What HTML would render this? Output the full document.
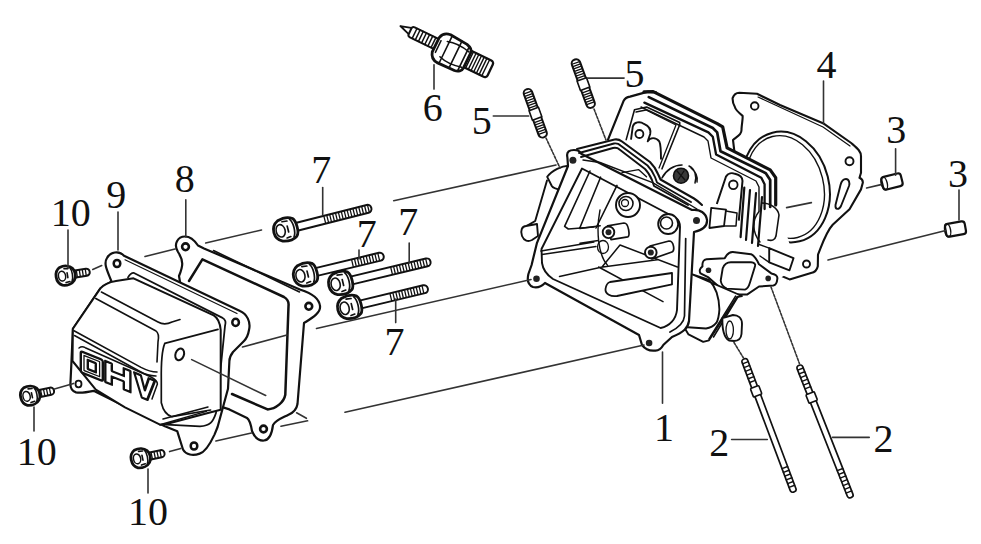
<!DOCTYPE html>
<html><head><meta charset="utf-8">
<style>
html,body{margin:0;padding:0;background:#fff;width:981px;height:544px;overflow:hidden}
svg{display:block}
text{font-family:"Liberation Serif",serif;font-size:40px;fill:#111}
.s{fill:none;stroke:#111;stroke-width:1.7;stroke-linejoin:round;stroke-linecap:round}
.t{fill:none;stroke:#333;stroke-width:1.6;stroke-linecap:round}
.w{fill:#fff;stroke:#111;stroke-width:1.7;stroke-linejoin:round}
</style></head><body>
<svg width="981" height="544" viewBox="0 0 981 544">
<!-- LABELS -->
<g id="labels">
<text x="50.8" y="226.2">10</text>
<text x="106.3" y="207.6">9</text>
<text x="174.8" y="192.4">8</text>
<text x="311.2" y="183.4">7</text>
<text x="356.7" y="247">7</text>
<text x="398.2" y="235">7</text>
<text x="384.6" y="355.3">7</text>
<text x="422.8" y="120.7">6</text>
<text x="471.7" y="134.2">5</text>
<text x="624.6" y="86.5">5</text>
<text x="816.6" y="77.8">4</text>
<text x="886.2" y="142.5">3</text>
<text x="948" y="186.6">3</text>
<text x="654" y="441">1</text>
<text x="709.2" y="455.8">2</text>
<text x="873.4" y="451.7">2</text>
<text x="16.8" y="465.4">10</text>
<text x="128" y="524.6">10</text>
</g>


<!-- BOLTS 10 -->
<g id="b10">
<g transform="translate(66,275.5) rotate(-9)">
 <rect x="6" y="-3.6" width="18" height="7.2" rx="3.4" class="w" style="stroke-width:2"/>
 <path d="M11,-3V3M14,-3V3M17,-3V3M20,-3V3" class="s" style="stroke-width:1.3"/>
 <path d="M-5,-9 C0,-10.5 5,-9 7.5,-6 C10,-3 10,3 7.5,6 C5,9 0,10.5 -5,9 C-9,7 -10,3 -10,0 C-10,-4 -9,-7 -5,-9Z" class="w" style="stroke-width:2.8"/>
 <ellipse cx="-4" cy="0" rx="3.6" ry="5" class="s" style="stroke-width:1.5"/>
 <path d="M-1,-7 L3,-6.5 M-1,7 L3,6.5 M1.5,-2.5 L1.5,2.5 M5,-7 C7,-4 7,4 5,7" class="s" style="stroke-width:1.6"/>
</g>
<g transform="translate(30.5,395.5) rotate(-12)">
 <rect x="6" y="-3.6" width="18" height="7.2" rx="3.4" class="w" style="stroke-width:2"/>
 <path d="M11,-3V3M14,-3V3M17,-3V3M20,-3V3" class="s" style="stroke-width:1.3"/>
 <path d="M-5,-9 C0,-10.5 5,-9 7.5,-6 C10,-3 10,3 7.5,6 C5,9 0,10.5 -5,9 C-9,7 -10,3 -10,0 C-10,-4 -9,-7 -5,-9Z" class="w" style="stroke-width:2.8"/>
 <ellipse cx="-4" cy="0" rx="3.6" ry="5" class="s" style="stroke-width:1.5"/>
 <path d="M-1,-7 L3,-6.5 M-1,7 L3,6.5 M1.5,-2.5 L1.5,2.5 M5,-7 C7,-4 7,4 5,7" class="s" style="stroke-width:1.6"/>
</g>
<g transform="translate(141,458) rotate(-12)">
 <rect x="6" y="-3.6" width="18" height="7.2" rx="3.4" class="w" style="stroke-width:2"/>
 <path d="M11,-3V3M14,-3V3M17,-3V3M20,-3V3" class="s" style="stroke-width:1.3"/>
 <path d="M-5,-9 C0,-10.5 5,-9 7.5,-6 C10,-3 10,3 7.5,6 C5,9 0,10.5 -5,9 C-9,7 -10,3 -10,0 C-10,-4 -9,-7 -5,-9Z" class="w" style="stroke-width:2.8"/>
 <ellipse cx="-4" cy="0" rx="3.6" ry="5" class="s" style="stroke-width:1.5"/>
 <path d="M-1,-7 L3,-6.5 M-1,7 L3,6.5 M1.5,-2.5 L1.5,2.5 M5,-7 C7,-4 7,4 5,7" class="s" style="stroke-width:1.6"/>
</g>
</g>
<!-- BOLTS 7 -->
<g id="b7">
<g transform="translate(286,229.5) rotate(-14.2)">
 <rect x="8" y="-4" width="80" height="8" rx="3.8" class="w" style="stroke-width:2"/>
 <path d="M40,-3.2V3.2M43,-3.2V3.2M46,-3.2V3.2M49,-3.2V3.2M52,-3.2V3.2M55,-3.2V3.2M58,-3.2V3.2M61,-3.2V3.2M64,-3.2V3.2M67,-3.2V3.2M70,-3.2V3.2M73,-3.2V3.2M76,-3.2V3.2M79,-3.2V3.2M82,-3.2V3.2M85,-3.2V3.2" class="s" style="stroke-width:1.3"/>
 <path d="M-6,-10.5 C-1,-12 5,-12 9,-9 C12,-6 12.5,6 9,9 C5,12 -1,12 -6,10.5 C-11,8 -12.5,3 -12.5,0 C-12.5,-4 -11,-8 -6,-10.5Z" class="w" style="stroke-width:2.8"/>
 <ellipse cx="-5.5" cy="0" rx="4.5" ry="6.3" class="s" style="stroke-width:1.6"/>
 <path d="M-2,-8.5 L3,-8 M-1,8.5 L3,8 M2,-3 L2,3 M6,-9 C9,-5 9,5 6,9" class="s" style="stroke-width:1.7"/>
</g>
<g transform="translate(305.8,274.5) rotate(-13.5)">
 <rect x="8" y="-4" width="72" height="8" rx="3.8" class="w" style="stroke-width:2"/>
 <path d="M48,-3.2V3.2M51,-3.2V3.2M54,-3.2V3.2M57,-3.2V3.2M60,-3.2V3.2M63,-3.2V3.2M66,-3.2V3.2M69,-3.2V3.2M72,-3.2V3.2M75,-3.2V3.2" class="s" style="stroke-width:1.3"/>
 <path d="M-6,-10.5 C-1,-12 5,-12 9,-9 C12,-6 12.5,6 9,9 C5,12 -1,12 -6,10.5 C-11,8 -12.5,3 -12.5,0 C-12.5,-4 -11,-8 -6,-10.5Z" class="w" style="stroke-width:2.8"/>
 <ellipse cx="-5.5" cy="0" rx="4.5" ry="6.3" class="s" style="stroke-width:1.6"/>
 <path d="M-2,-8.5 L3,-8 M-1,8.5 L3,8 M2,-3 L2,3 M6,-9 C9,-5 9,5 6,9" class="s" style="stroke-width:1.7"/>
</g>
<g transform="translate(341,283) rotate(-13.5)">
 <rect x="8" y="-4" width="84" height="8" rx="3.8" class="w" style="stroke-width:2"/>
 <path d="M52,-3.2V3.2M55,-3.2V3.2M58,-3.2V3.2M61,-3.2V3.2M64,-3.2V3.2M67,-3.2V3.2M70,-3.2V3.2M73,-3.2V3.2M76,-3.2V3.2M79,-3.2V3.2M82,-3.2V3.2M85,-3.2V3.2M88,-3.2V3.2" class="s" style="stroke-width:1.3"/>
 <path d="M-6,-10.5 C-1,-12 5,-12 9,-9 C12,-6 12.5,6 9,9 C5,12 -1,12 -6,10.5 C-11,8 -12.5,3 -12.5,0 C-12.5,-4 -11,-8 -6,-10.5Z" class="w" style="stroke-width:2.8"/>
 <ellipse cx="-5.5" cy="0" rx="4.5" ry="6.3" class="s" style="stroke-width:1.6"/>
 <path d="M-2,-8.5 L3,-8 M-1,8.5 L3,8 M2,-3 L2,3 M6,-9 C9,-5 9,5 6,9" class="s" style="stroke-width:1.7"/>
</g>
<g transform="translate(350,307) rotate(-13.5)">
 <rect x="8" y="-4" width="72" height="8" rx="3.8" class="w" style="stroke-width:2"/>
 <path d="M42,-3.2V3.2M45,-3.2V3.2M48,-3.2V3.2M51,-3.2V3.2M54,-3.2V3.2M57,-3.2V3.2M60,-3.2V3.2M63,-3.2V3.2M66,-3.2V3.2M69,-3.2V3.2M72,-3.2V3.2M75,-3.2V3.2" class="s" style="stroke-width:1.3"/>
 <path d="M-6,-10.5 C-1,-12 5,-12 9,-9 C12,-6 12.5,6 9,9 C5,12 -1,12 -6,10.5 C-11,8 -12.5,3 -12.5,0 C-12.5,-4 -11,-8 -6,-10.5Z" class="w" style="stroke-width:2.8"/>
 <ellipse cx="-5.5" cy="0" rx="4.5" ry="6.3" class="s" style="stroke-width:1.6"/>
 <path d="M-2,-8.5 L3,-8 M-1,8.5 L3,8 M2,-3 L2,3 M6,-9 C9,-5 9,5 6,9" class="s" style="stroke-width:1.7"/>
</g>
</g>
<!-- SPARK PLUG 6 -->
<g transform="translate(401.5,26) rotate(25.8)">
 <path d="M-1,0.5 L11,-3 L11,4.5Z" class="w" style="stroke-width:1.8"/>
 <rect x="10" y="-4.5" width="32" height="11" rx="2.5" class="w" style="stroke-width:2"/>
 <path d="M15,-4.5V6.5M18.5,-4.5V6.5M22,-4.5V6.5M25.5,-4.5V6.5M29,-4.5V6.5M32.5,-4.5V6.5M36,-4.5V6.5" class="s" style="stroke-width:1.5"/>
 <rect x="70" y="-8" width="29" height="18" rx="3" class="w" style="stroke-width:2.3"/>
 <path d="M73,-8V10M76,-8V10M79,-8V10M82,-8V10M85,-8V10M88,-8V10M91,-8V10M94,-8V10" class="s" style="stroke-width:1.4"/>
 <path d="M39,-6 C40,-10 43,-13 48,-13.5 L67,-12 C71,-11 74,-9 74,-6 L74,11 C74,14 71,16.5 67,17 L48,17.5 C43,17 40,14 39,10Z" class="w" style="stroke-width:2.8"/>
 <path d="M50,-13V17.5M61,-12.5V17M70,-11V16M48,-6 C54,-8 64,-8 72,-6 M48,11 C54,13 64,13 72,11" class="s" style="stroke-width:1.6"/>
 <path d="M42,-4 L42,9" class="s" style="stroke-width:1.5"/>
</g>
<!-- STUDS 5 -->
<g transform="translate(526.6,89.3) rotate(-19.9)">
 <rect x="-4.3" y="0" width="8.6" height="51" rx="4" class="w" style="stroke-width:2"/>
 <path d="M-4,3.5H4M-4,6H4M-4,8.5H4M-4,11H4M-4,13.5H4M-4,16H4M-4,18.5H4M-4,34H4M-4,36.5H4M-4,39H4M-4,41.5H4M-4,44H4M-4,46.5H4" class="s" style="stroke-width:1.3"/>
 <path d="M-5,21 L5,21 L5,31 L-5,31Z" class="w" style="stroke-width:1.6"/>
</g>
<g transform="translate(574.6,59.6) rotate(-19.9)">
 <rect x="-4.3" y="0" width="8.6" height="51" rx="4" class="w" style="stroke-width:2"/>
 <path d="M-4,3.5H4M-4,6H4M-4,8.5H4M-4,11H4M-4,13.5H4M-4,16H4M-4,18.5H4M-4,34H4M-4,36.5H4M-4,39H4M-4,41.5H4M-4,44H4M-4,46.5H4" class="s" style="stroke-width:1.3"/>
 <path d="M-5,21 L5,21 L5,31 L-5,31Z" class="w" style="stroke-width:1.6"/>
</g>
<!-- STUDS 2 -->
<g transform="translate(744,359) rotate(-20.6)">
 <rect x="-3" y="0" width="6" height="142" rx="2.5" class="w" style="stroke-width:1.7"/>
 <path d="M-3,4H3M-3,8H3M-3,12H3M-3,16H3M-3,20H3M-3,24H3M-3,116H3M-3,120H3M-3,124H3M-3,128H3M-3,132H3M-3,136H3" class="s" style="stroke-width:1.4"/>
 <rect x="-4.5" y="30" width="9" height="9" rx="1" class="w" style="stroke-width:1.6"/>
</g>
<g transform="translate(799,365.4) rotate(-21.5)">
 <rect x="-3" y="0" width="6" height="142" rx="2.5" class="w" style="stroke-width:1.7"/>
 <path d="M-3,4H3M-3,8H3M-3,12H3M-3,16H3M-3,20H3M-3,24H3M-3,112H3M-3,116H3M-3,120H3M-3,124H3M-3,128H3M-3,132H3M-3,136H3" class="s" style="stroke-width:1.4"/>
 <rect x="-4.5" y="30" width="9" height="9" rx="1" class="w" style="stroke-width:1.6"/>
</g>
<!-- DOWELS 3 -->
<g transform="translate(892,181.5) rotate(-14)">
 <rect x="-10" y="-6.5" width="20" height="13" rx="3" class="w" style="stroke-width:2.2"/>
 <ellipse cx="-8" cy="0" rx="3" ry="6.5" class="s" style="stroke-width:1.4"/>
</g>
<g transform="translate(955.5,229) rotate(-10)">
 <rect x="-10" y="-6.5" width="20" height="13" rx="3" class="w" style="stroke-width:2.2"/>
 <ellipse cx="-8" cy="0" rx="3" ry="6.5" class="s" style="stroke-width:1.4"/>
</g>


<!-- HEAD GASKET 4 -->
<g id="g4">
<path class="w" style="stroke-width:2.1" d="M732.6,98.2 C734,94 736,92.7 739.3,92.7 L757,93.8 L780,105 L823,123.2 L851.2,143 C857,148 861,151 861,156.3 L861,172.8 L859.5,177.8 C862,179 863,181 862.8,182.8 L861,189.4 L849.5,209.3 L832.7,224.8 C826,232 822,245 818,254.6 L817.8,266.2 C817,270 814,272.5 811,273 L789.6,279.4 L772,272 L760,262 L745,240 L733,140 C738,136 742,134 741.5,129.1 C742,122 743,118 742.6,115.9 C738,112 735,108 734.9,107 C733,104 732.5,101 732.6,98.2Z"/>
<path class="s" style="stroke-width:1.2" d="M758,97 L823,127 L850,146"/>
<ellipse cx="786" cy="187" rx="43" ry="56" transform="rotate(-14 786 187)" class="s" style="stroke-width:2"/>
<ellipse cx="785" cy="187" rx="38.5" ry="52" transform="rotate(-14 785 187)" class="s" style="stroke-width:1.4"/>
<circle cx="754.7" cy="106" r="3.8" class="s" style="stroke-width:1.9"/>
<circle cx="849.5" cy="161.3" r="4" class="s" style="stroke-width:1.9"/>
<circle cx="806.5" cy="264" r="3.5" class="s" style="stroke-width:1.9"/>
<path class="s" style="stroke-width:1.9" d="M846,179 C849,179 850,183 849,186 L841,206 C839,210 835,210 835.5,205 L840.5,185 C841.5,181 843,179 846,179Z"/>
<path class="t" d="M786.6,207.6 L811.4,202.6"/>
</g>
<!-- HEAD 1 -->
<g id="h1">
<!-- overall silhouette fill -->
<path fill="#fff" stroke="none" d="M566,156 L606,141 L623.7,100.7 L629.5,96.6 L653,91.6 L717.2,123.6 L722.7,126.9 L727.1,147.9 L770.2,169.9 L775.7,177.6 L776,197 L781,216 L795,262 L790,272 L777,280 L770,288 L740,296 L741,330 L730,338 L700,337 L662,350 L645,352 L530,286 L523,236 L537,222 L546,174Z"/>
<!-- back plate outline -->
<path class="s" style="stroke-width:2.2" d="M608,139.6 L623.7,100.7 C625,98 627,97 630,96.6 L648,91.6 L656,92.4"/>
<!-- fins top (stepped) -->
<path class="s" style="stroke-width:3.2" d="M644,91.8 L653.2,91.6 L717.2,123.6 L722.7,126.9 L727.1,147.9 L770.2,169.9 L775.7,177.6 L775.7,205"/>
<path class="s" style="stroke-width:2.7" d="M648.8,97.1 L712.8,128 L717.2,132.4 L720.5,151.2 L765.8,173.2 L770.2,179.9 L770.2,207"/>
<path class="s" style="stroke-width:2.3" d="M644.4,102.6 L708.4,132.4 L712.8,136.8 L716.1,154.5 L761.3,177.7 L764.6,184.3 L764.6,209"/>
<path class="s" style="stroke-width:1.4" d="M641,107 L704,137 L708,141 L711,158 L756,181 L759,187 L759,211"/>
<!-- back plate inner -->
<path class="s" style="stroke-width:1.6" d="M626.2,139.6 L634.5,109.8 L646.6,107 L679.7,122.5 L679.7,124.7 L662,168.8"/>
<path class="s" style="stroke-width:1.3" d="M636,112 L646,110 L676,125 L659,168"/>
<!-- lug with hole -->
<path class="w" style="stroke-width:1.9" d="M631,139.6 L632.8,126.4 C634,122 640,121 644,123.9 C649,126 651,130 650.2,134 L647.7,141.3 C650,137 656,137 659.3,141.3 C661,145 661,152 661,159.5"/>
<circle cx="639.4" cy="134" r="4" class="s" style="stroke-width:1.8"/>
<!-- spark plug hole -->
<circle cx="681" cy="175.7" r="7.5" fill="#3a3a3a" stroke="#111" stroke-width="1.6"/>
<path class="s" style="stroke-width:1.3" d="M677,171 L685,180 M684,171 L678,180"/>
<path class="s" style="stroke-width:1.5" d="M689,166 C695,169 697,176 695,183 M691,168 C696,172 698,177 697,182"/>
<path class="s" style="stroke-width:1.6" d="M662,178 C666,170 674,165 682,165"/>
<!-- right lug -->
<path class="w" style="stroke-width:2" d="M716.8,204 L726,176.5 C728,173 732,172.5 735,173.8 C740,175 742.5,178 742.5,181 L738.8,220.6"/>
<circle cx="733.3" cy="184.8" r="4.3" class="s" style="stroke-width:1.8"/>
<!-- vertical fins right -->
<path class="s" style="stroke-width:2.2" d="M744.3,187.6 L740.6,237.2 M750,190 L746,240 M756,193 L752,243 M762,197 L758,246"/>
<path class="s" style="stroke-width:1.6" d="M762,203 C770,203 778,208 779,215 L776,236 C775,240 772,241 768,240"/>
<path class="s" style="stroke-width:1.4" d="M759,211.5 C752,220 752,232 760,242"/>
<!-- small tab -->
<path class="w" style="stroke-width:1.8" d="M711.2,207.8 L726,209.6 L724,226 L709.4,228Z"/>
<path class="s" style="stroke-width:1.5" d="M726,211 L737,213 L736,226 L724,226"/>
<!-- far right tab -->
<path class="w" style="stroke-width:1.9" d="M769.2,248.1 L793.5,258.2 L789.5,270.3 L769.2,262.3Z"/>
<path class="s" style="stroke-width:1.4" d="M758,244 L769.2,248.1 M760,256 L769.2,262.3"/>
<!-- intake port flange -->
<path class="w" style="stroke-width:2" d="M702.5,266.3 C702,262 704,259.5 706.5,259.2 L724.7,258.2 C727,254 730,252 732.8,252.1 L751,254.2 C755,256 757,260 759,264.3 L771.3,273.4 C775,274 778,276 777.3,279 C777,283 776,285 773.3,285.5 L759,286.5 L747,294.6 L728.8,294.6 C724,293 721,290 718.7,286.5 L708.5,277.4 L700.5,273.4 C699,271 700,268 702.5,266.3Z"/>
<path class="s" style="stroke-width:1.9" d="M722.7,268.3 C724,265 727,262.3 730.8,262.3 L751,262.3 C754,262.5 756,264 755,266.3 L750,282.5 C749,286 747,289 745,289.6 L726.8,288.6 C723,287 721,283 720.7,280.5Z"/>
<circle cx="708.5" cy="270.3" r="2.8" fill="#222"/>
<circle cx="768.2" cy="278.4" r="2.8" fill="#222"/>
<!-- lower body right -->
<path class="w" style="stroke-width:1.9" d="M692.4,274.4 L709,280 C716,287 719,296 719.4,309.4 C719,316 718,320 716.5,322.7 C713,327 710,328 706,328.5 L684,327 L688.5,334.4 L703.2,341.8 L709,340.3 L737,297 L742,296 Z"/>
<path class="s" style="stroke-width:1.6" d="M709,338.8 L735.6,296.2 M713.5,337 L738,296.8"/>
<path class="w" style="stroke-width:1.9" d="M722.4,318.2 L733,315 C738,315 742,318 742,324 L741.5,334 C741,339 738,341 734,341 L729,340.5 C725,338 722,332 722.4,318.2Z"/>
<ellipse cx="729.7" cy="330" rx="3.7" ry="9" class="s" style="stroke-width:1.3"/>
<path class="s" style="stroke-width:1.5" d="M644.4,288.8 L669.4,283 L668,299"/>
<!-- left body -->
<path class="w" style="stroke-width:1.9" d="M547.2,176.8 C552,170 562,166 568.3,165.7 L570,184 C567,189 564,190 561,189.6 C556,189 553,188 551.8,186 Z"/>
<path class="s" style="stroke-width:1.9" d="M547,180.4 L535.2,221 L526,226.4"/>
<path class="w" style="stroke-width:1.9" d="M526,226 C522,226 520,231 522,236 C524,241 528,242 532,240 L538,236 L537,224Z"/>
<!-- FRONT FLANGE -->
<path class="w" style="stroke-width:2.2" d="M567.4,157.5 C566,151 570,150 574,150 C578,150 580,151 581.2,153.8 L692,210 C700,209 706,213 707,220 C707.5,226 703,230 694,232 L689,321 C688,328 684,332 672,337 L663.5,344.7 C661,349 658,351 654.7,350.6 C650,351 645,349 642,345 L639,335 L545,283 C541,287 537,288 533,287 C528,285 527,280 528.4,274 L531.6,265 L533.4,257.5 L537,242.8 L568,166 Z"/>
<path class="s" style="stroke-width:1.7" d="M685.7,238.6 L684.5,316 C684,322 680,327 670,332"/>
<!-- flange inner contour -->
<path class="w" style="stroke-width:1.9" d="M582,168.5 L676,218 C679,220 680,223 680,227 L677,310 C676,319 670,326 660.6,328 L553,279 C547,275 543,270 542,263 L541.5,249 Z"/>
<!-- top flange band double lines / fins front -->
<path class="s" style="stroke-width:2.1" d="M577,149 L614.6,139.5 C618,139 620,140 622,141.5 L650,162 C653,165 656,169 658,174 L660.5,179.5 L694,198.5 C698,201 700,203 702,205"/>
<path class="s" style="stroke-width:1.9" d="M579,153 L614,143.5 C617,143 619,144 620.5,145.5 L647.5,165.5 C650.5,168.5 653,172 655,177 L657,182.5 L691,202"/>
<path class="s" style="stroke-width:1.9" d="M581,157 L613,148 C616,147.5 618,148 619.5,149.5 L645,169 C648,172 650,175.5 652,180 L654,186 L688,205"/>
<path class="s" style="stroke-width:1.4" d="M583,160 L600,162.5 L652.6,182.7 L697,209"/>
<path class="s" style="stroke-width:1.4" d="M622,172.6 L638.5,169.6 L646.5,176.7"/>
<circle cx="572.9" cy="160.2" r="3.5" fill="#222"/>
<circle cx="696.5" cy="220.6" r="3.5" fill="#222"/>
<circle cx="649.1" cy="343" r="3.3" fill="#222"/>
<circle cx="536.5" cy="278.7" r="3.3" fill="#222"/>
<!-- interior -->
<path class="s" style="stroke-width:1.6" d="M590,171 L564.6,226.3 L568.3,229 L594,227 M600.6,177.2 L580,227.5 M617,185.4 L596,228"/>
<path class="s" style="stroke-width:1.5" d="M541,251 L594,242 M542,254.5 L596,246.5 M580,228.6 L600.2,225.8 M580,243.3 L598.4,240.5"/>
<path class="s" style="stroke-width:1.4" d="M600,210 C596,230 598,255 607.6,265.4"/>
<path class="s" style="stroke-width:1.5" d="M559.5,276.4 L601,267.2 L657.2,259.8 M602,267 L620,245 M620,245 L677.4,267 M598.6,267 L663,301.7"/>
<ellipse cx="603" cy="247" rx="5.5" ry="6.5" class="s" style="stroke-width:1.3"/>
<!-- flat bar -->
<path class="w" style="stroke-width:1.8" d="M610,282 L672,273 L672,284.4 L617,296 C611,297 605,294 605.5,289 C606,285 607,283 610,282Z"/>
<!-- rocker bosses -->
<circle cx="628" cy="205" r="12" class="w" style="stroke-width:1.9"/>
<circle cx="626" cy="203.5" r="7" class="s" style="stroke-width:1.6"/>
<circle cx="625" cy="203" r="3.5" class="s" style="stroke-width:1.3"/>
<circle cx="668.2" cy="224" r="10" class="w" style="stroke-width:1.9"/>
<circle cx="666.5" cy="223" r="6" class="s" style="stroke-width:1.6"/>
<!-- tubes -->
<path class="w" style="stroke-width:1.7" d="M607.6,225.8 L624,223 C629,223 630,236 627.8,236.9 L611,239.6Z"/>
<circle cx="608.5" cy="232.3" r="5.8" class="w" style="stroke-width:1.9"/>
<circle cx="608.5" cy="232.3" r="3" fill="#222"/>
<path class="w" style="stroke-width:1.7" d="M650,246 L669,241 C674,241 675,251 671.9,252 L652,259Z"/>
<circle cx="650.8" cy="252.5" r="5.8" class="w" style="stroke-width:1.9"/>
<circle cx="650.8" cy="252.5" r="3" fill="#222"/>
</g>
<!-- GASKET 8 -->
<g id="g8">
<path class="w" style="stroke-width:2.2" d="M179,276 C183,266 184,261 178,252 C173,244 178,236.5 185,236.5 C191,236.5 195,241 198,245.5 L204,248.5 L300.5,289.7 C308,292 319,297 320,306 C321,313 312,318 304,323 L297.5,404 C296.5,410 293,413 288,415 C282,418 276,420 273,425 C272,433 270,440 264,440.5 C258,441 254,436 252,431 C251,425 250,420 247,418 L229.4,409.4 L200,400 L179,276Z"/>
<path class="s" style="stroke-width:1.6" d="M213.5,250.5 L299.5,292"/>
<path class="s" style="stroke-width:2.5" d="M189,281 L202.4,259.4 L284,297 C287.5,299 289,302 288.5,306 L285.3,394.7 C284,402 276,409 267.6,409.4 L232,394"/>
<circle cx="185.5" cy="246.8" r="3.4" class="s" style="stroke-width:2.6"/>
<circle cx="308.8" cy="306.3" r="3.4" class="s" style="stroke-width:2.6"/>
<circle cx="263.5" cy="429" r="3.4" class="s" style="stroke-width:2.6"/>
</g>

<!-- VALVE COVER 9 -->
<g id="c9">
<!-- flange outer -->
<path class="w" style="stroke-width:2.2" d="M111.5,281.5 C108,272 103,264 107,258 C110,252 119,250 124,255.7 L240,311 C247,314 251,322 249,330 C248,336 247,338 244,341 L233,352 C230,356 229.4,358 229.4,361 L228,388.8 L217.6,427 L214.5,434.6 C211,442 205,452 199.7,453.6 C193,456 186,455 183,449.5 L177.3,431.3 L164.9,426.3 L93.6,390.8 C88,392 80,393 76,392.4 C72,391 70.4,388 70.4,384 L71.5,361 L72.9,328.8 L100.4,288.4Z"/>
<!-- flange double line right -->

<path class="s" style="stroke-width:1.2" d="M125,259.8 L237,313.5"/>
<!-- flange inner contour -->
<path class="s" style="stroke-width:1.8" d="M128,277.4 C130,274 131,272.8 133.5,272.8 L222,317.6 C226,320 226,322 225,326 L216,413 C213,422 210,426 200,426.3 L166.5,424.7"/>
<!-- holes -->
<ellipse cx="117" cy="263.5" rx="3.3" ry="3.6" class="s" style="stroke-width:2.5"/>
<ellipse cx="235.6" cy="322.4" rx="3.3" ry="3.6" class="s" style="stroke-width:2.5"/>
<ellipse cx="194" cy="446" rx="3.3" ry="3.6" class="s" style="stroke-width:2.5"/>
<ellipse cx="78.5" cy="384" rx="3" ry="3.3" class="s" style="stroke-width:1.8"/>
<!-- body -->
<path class="w" style="stroke-width:2" d="M100.4,288.4 C104,284 110,282 116,281 L133.5,278.3 L213.7,315.4 C218,318 220,322 220.7,330 L220.7,409.7 L208,413 L166.5,424 L160,424.7 L125,407.3 L95.8,389.7 L72.5,361 L72.9,328.8Z"/>
<path class="s" style="stroke-width:1.6" d="M101.4,292 L158,322 C163,325 168,324 172,322 L180,319.6"/>
<path class="s" style="stroke-width:1.6" d="M95.8,298.5 L155.6,330.7 C159,333 159,337 158,342 L157,362"/>
<path class="s" style="stroke-width:1.6" d="M74,330.7 L141,367.4 C148,371 152,372 157,372"/>
<path class="s" style="stroke-width:1.5" d="M74.5,335.5 L140,371.5 C146,375 150,376 156,376"/>

<!-- OHV -->
<path class="s" style="stroke-width:1.5" d="M79,348 C81,346.5 83,346.5 85.3,347.7 L150,376.5 C155,379 157.5,381 157.4,384 L152,399"/>
<g transform="matrix(1,0.4,0,1,80.8,351.2)" class="s" style="stroke-width:2.4">
 <path d="M2,0 L20,0 C21.5,0 22,0.7 22,2 L22,19.5 C22,20.5 21.5,21 20,21 L2,21 C0.8,21 0,20.3 0,19 L0,2 C0,0.7 0.8,0 2,0Z M7,6 L15,6 L15,15 L7,15Z"/>
 <path d="M3.2,3 L18.8,3 L18.8,18 L3.2,18Z" style="stroke-width:1.3"/>
 <path d="M24.5,0 L31,0 L31,7.5 L43,7.5 L43,0 L49.6,0 L49.6,21 L43,21 L43,13 L31,13 L31,21 L24.5,21Z"/>
 <path d="M53.4,0 L60,0 L64,13.5 L68,0 L74,0 L66.5,22 L61,22Z"/>
</g>
<!-- right face -->
<path class="s" style="stroke-width:1.7" d="M164.8,343.4 L218,329.4 M164.8,343.4 C162,350 161,360 161.3,380 L161.3,402.7 C163,410 166,415 172,416.7 L210.6,410"/>
<ellipse cx="179.7" cy="354.4" rx="4.2" ry="6" transform="rotate(20 179.7 354.4)" class="s" style="stroke-width:2"/>
<path class="s" style="stroke-width:1.5" d="M160,424.7 L206.3,411.4 M163,419 L208,407"/>
</g>
<!-- LEADERS -->
<g class="t">
<path d="M68,230V268"/>
<path d="M118,212V250"/>
<path d="M185.8,199.8V237"/>
<path d="M322.7,187.5V214.7"/>
<path d="M359,250V259"/>
<path d="M409.2,243V263"/>
<path d="M395.7,299V322.6"/>
<path d="M434,64.7V89.1"/>
<path d="M493.3,116H528.7"/>
<path d="M587.4,78.1H624.1"/>
<path d="M823.5,81V124"/>
<path d="M895.6,148.8V175.3"/>
<path d="M959,190V220"/>
<path d="M662.5,352V403.3"/>
<path d="M731.6,439.5H767.3"/>
<path d="M832.5,437.4H869.2"/>
<path d="M34,407V431"/>
<path d="M148,469V493"/>
<!-- long dashed construction lines -->
<path d="M92.7,269.4L101.7,265.5"/>
<path d="M145,256.5L175,249"/>
<path d="M205.7,243L261.5,230"/>
<path d="M393.7,200.7L556,165"/>
<path d="M242.5,347L287,335"/>
<path d="M316.5,328.5L531,279.5"/>
<path d="M191.7,359.6L265.7,395.5"/>
<path d="M281,426.3L307.6,420.8"/>
<path d="M296.6,412.8L306.4,418.3"/>
<path d="M215.9,441L251.4,433"/>
<path d="M345,412.2L644,345"/>
<path d="M54.4,389L73.6,383.4"/>
<path d="M169.6,451.6L180.8,448.4"/>
<path d="M866.6,188L881,184.6"/>
<path d="M828,260L945.7,230.5"/>
<path d="M734,342.5L743.5,358" stroke-dasharray="2.5,1.5"/>
<path d="M771,287L799.5,363.7" stroke-dasharray="2.5,1.5"/>
<path d="M546,138L560,168" stroke-dasharray="2.5,1.5"/>
<path d="M594,109L606,140" stroke-dasharray="2.5,1.5"/>
</g>
</svg>
</body></html>
